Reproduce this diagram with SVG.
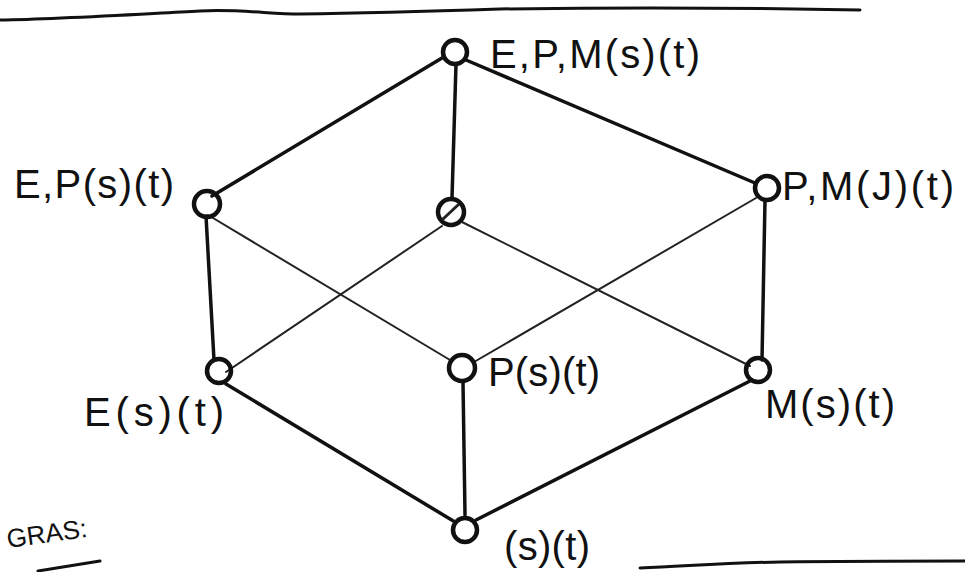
<svg xmlns="http://www.w3.org/2000/svg" width="965" height="572" viewBox="0 0 965 572">
<style>
.bg{fill:#fff}
.node{fill:none;stroke:#111;stroke-width:4.5}
.edge{fill:none;stroke:#111;stroke-width:3.5;stroke-linecap:round}
.thin{fill:none;stroke:#222;stroke-width:2;stroke-linecap:round}
.rule{fill:none;stroke:#111;stroke-width:3;stroke-linecap:round}
.lbl{font-family:"Liberation Sans","DejaVu Sans",sans-serif;font-size:40px;fill:#111}
</style>
<rect class="bg" x="0" y="0" width="965" height="572"/>
<g id="rules">
<path class="rule" d="M0,20 C60,19 140,14 200,11 C240,9 270,14 300,14 C380,13 440,11 500,9 C640,7 760,8 860,10"/>
<path class="rule" d="M640,568 C690,566 720,563 780,562 C850,561 910,561 965,561"/>
<path class="rule" d="M38,571 L100,561"/>
<text class="lbl" x="8" y="548" style="font-size:26px" transform="rotate(-8 8 548)">GRAS:</text>
</g>
<g id="connectors">
<line class="edge" x1="442" y1="58" x2="212" y2="196"/>
<line class="edge" x1="466" y1="60" x2="755" y2="183"/>
<line class="edge" x1="456" y1="64" x2="452" y2="198"/>
<line class="edge" x1="206" y1="216" x2="214" y2="360"/>
<line class="thin" x1="208" y1="215" x2="450" y2="360"/>
<line class="thin" x1="442" y1="226" x2="226" y2="372"/>
<line class="thin" x1="462" y1="222" x2="750" y2="366"/>
<line class="thin" x1="756" y1="198" x2="474" y2="362"/>
<line class="edge" x1="765" y1="200" x2="762" y2="360"/>
<line class="edge" x1="226" y1="384" x2="455" y2="522"/>
<line class="edge" x1="463" y1="382" x2="465" y2="515"/>
<line class="edge" x1="752" y1="380" x2="476" y2="520"/>
</g>
<g id="n-epm"><circle class="node" cx="455" cy="52" r="12"/><text class="lbl" x="490" y="68" textLength="210" lengthAdjust="spacing">E,P,M(s)(t)</text></g>
<g id="n-ep"><circle class="node" cx="207" cy="204" r="13"/><text class="lbl" x="14" y="198" textLength="160" lengthAdjust="spacing">E,P(s)(t)</text></g>
<g id="n-center"><circle class="node" cx="451" cy="212" r="13"/><line class="thin" x1="443" y1="219" x2="458" y2="205" style="stroke-width:3"/></g>
<g id="n-pm"><circle class="node" cx="767" cy="188" r="12"/><text class="lbl" x="782" y="200" textLength="172" lengthAdjust="spacing">P,M(J)(t)</text></g>
<g id="n-e"><circle class="node" cx="219" cy="371" r="12"/><text class="lbl" x="84" y="426" textLength="140" lengthAdjust="spacing">E(s)(t)</text></g>
<g id="n-p"><circle class="node" cx="462" cy="368" r="13"/><text class="lbl" x="488" y="386" textLength="112" lengthAdjust="spacing">P(s)(t)</text></g>
<g id="n-m"><circle class="node" cx="758" cy="370" r="12"/><text class="lbl" x="765" y="418" textLength="130" lengthAdjust="spacing">M(s)(t)</text></g>
<g id="n-bottom"><circle class="node" cx="465" cy="530" r="12"/><text class="lbl" x="504" y="560" textLength="86" lengthAdjust="spacing">(s)(t)</text></g>
</svg>
